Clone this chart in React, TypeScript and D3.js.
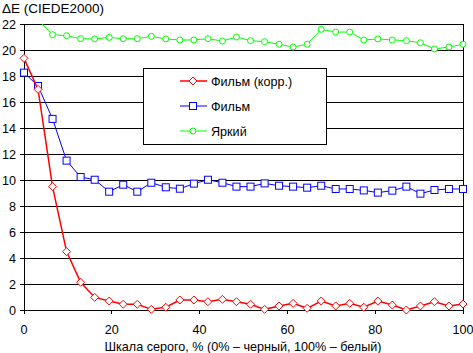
import React, { useEffect, useRef } from 'react';
import * as d3 from 'd3';

// grey levels, % (32 steps)
const greyLevels = [0, 3.2, 6.5, 9.7, 12.9, 16.1, 19.4, 22.6, 25.8, 29, 32.3, 35.5, 38.7, 41.9, 45.2, 48.4,
  51.6, 54.8, 58.1, 61.3, 64.5, 67.7, 71, 74.2, 77.4, 80.6, 83.9, 87.1, 90.3, 93.5, 96.8, 100];

const filmCorr = [19.36, 16.97, 9.49, 4.49, 2.13, 0.97, 0.69, 0.44, 0.44, 0.05, 0.21, 0.77, 0.77, 0.64, 0.82, 0.64,
  0.44, 0.05, 0.31, 0.51, 0.13, 0.69, 0.31, 0.51, 0.21, 0.69, 0.38, 0.0, 0.31, 0.64, 0.31, 0.46];

const film = [18.26, 17.23, 14.7, 11.49, 10.23, 10.02, 9.1, 9.64, 9.1, 9.79, 9.44, 9.33, 9.72, 10.02, 9.79, 9.49,
  9.49, 9.74, 9.56, 9.49, 9.41, 9.56, 9.31, 9.31, 9.2, 9.03, 9.18, 9.49, 8.95, 9.23, 9.31, 9.31];

const bright = [23.5, 22.3, 21.18, 21.1, 20.87, 20.85, 20.97, 20.87, 20.87, 21.05, 20.85, 20.77, 20.77, 20.87, 20.69, 21.0,
  20.72, 20.64, 20.44, 20.23, 20.44, 21.59, 21.38, 21.38, 20.77, 20.85, 20.77, 20.72, 20.56, 20.08, 20.23, 20.44];

const seriesNames = ['Фильм (корр.)', 'Фильм', 'Яркий'];
const yTicks = [0, 2, 4, 6, 8, 10, 12, 14, 16, 18, 20, 22];
const xTicks = [0, 20, 40, 60, 80, 100];

function App() {
  const ref = useRef<SVGSVGElement>(null);

  useEffect(() => {
    const svg = d3.select(ref.current);
    svg.selectAll('*').remove();
    const font = 'Liberation Sans, Arial, sans-serif';
    const fs = '12.6px';

    const left = 24, right = 463, top = 24, bottom = 310;
    const x = d3.scaleLinear().domain([0, 100]).range([left, right]);
    const y = d3.scaleLinear().domain([0, 22]).range([bottom, top]);

    svg.append('clipPath').attr('id', 'plot-clip')
      .append('rect').attr('x', 0).attr('y', top).attr('width', 473).attr('height', 353 - top);

    // grid
    svg.append('g').selectAll('line').data(yTicks.filter(d => d > 0)).join('line')
      .attr('x1', left - 4).attr('x2', right)
      .attr('y1', d => y(d)).attr('y2', d => y(d))
      .attr('stroke', '#000').attr('shape-rendering', 'crispEdges');

    // axes
    const axisG = svg.append('g').attr('shape-rendering', 'crispEdges');
    axisG.append('line').attr('x1', left - 4).attr('x2', right).attr('y1', bottom).attr('y2', bottom).attr('stroke', '#000');
    axisG.append('line').attr('x1', left).attr('x2', left).attr('y1', top).attr('y2', bottom).attr('stroke', '#000');
    axisG.append('line').attr('x1', right).attr('x2', right).attr('y1', top).attr('y2', bottom).attr('stroke', '#000');
    axisG.selectAll('.xt').data(xTicks).join('line').attr('class', 'xt')
      .attr('x1', d => x(d)).attr('x2', d => x(d)).attr('y1', bottom).attr('y2', bottom + 4).attr('stroke', '#000');

    svg.append('g').selectAll('text').data(yTicks).join('text')
      .attr('x', 16).attr('y', d => y(d) + 4.5)
      .attr('text-anchor', 'end').style('font-family', font).style('font-size', fs)
      .text(d => d);

    svg.append('g').selectAll('text').data(xTicks).join('text')
      .attr('x', d => x(d)).attr('y', 334)
      .attr('text-anchor', 'middle').style('font-family', font).style('font-size', fs)
      .text(d => d);

    svg.append('text').attr('x', 2).attr('y', 13)
      .style('font-family', font).style('font-size', '13.5px').text('ΔE (CIEDE2000)');
    svg.append('text').attr('x', 243).attr('y', 351).attr('text-anchor', 'middle')
      .style('font-family', font).style('font-size', fs)
      .text('Шкала серого, % (0% – черный, 100% – белый)');

    const series = [
      { values: bright, color: '#00ff00', width: 1, marker: 'circle' },
      { values: film, color: '#0000ff', width: 1, marker: 'square' },
      { values: filmCorr, color: '#ff0000', width: 1.5, marker: 'diamond' },
    ];

    const drawMarker = (g: any, type: string, color: string, cx: number, cy: number) => {
      if (type === 'circle') {
        g.append('circle').attr('cx', cx).attr('cy', cy).attr('r', 3)
          .attr('fill', '#fff').attr('stroke', color).attr('stroke-width', 1);
      } else if (type === 'square') {
        g.append('rect').attr('x', cx - 3.5).attr('y', cy - 3.5).attr('width', 7).attr('height', 7)
          .attr('fill', '#fff').attr('stroke', color).attr('stroke-width', 1);
      } else {
        g.append('path').attr('d', `M${cx},${cy - 4}L${cx + 4},${cy}L${cx},${cy + 4}L${cx - 4},${cy}Z`)
          .attr('fill', '#fff').attr('stroke', color).attr('stroke-width', 1);
      }
    };

    const plot = svg.append('g').attr('clip-path', 'url(#plot-clip)');
    series.forEach(s => {
      const line = d3.line<number>().x((d, i) => x(greyLevels[i])).y(d => y(d));
      plot.append('path').datum(s.values).attr('d', line)
        .attr('fill', 'none').attr('stroke', s.color).attr('stroke-width', s.width);
      s.values.forEach((v, i) => drawMarker(plot, s.marker, s.color, x(greyLevels[i]), y(v)));
    });

    // legend
    const legend = svg.append('g');
    legend.append('rect').attr('x', 143.5).attr('y', 68.5).attr('width', 183).attr('height', 76)
      .attr('fill', '#fff').attr('stroke', '#000');
    const legendItems = [
      { name: seriesNames[0], color: '#ff0000', width: 1.5, marker: 'diamond' },
      { name: seriesNames[1], color: '#0000ff', width: 1, marker: 'square' },
      { name: seriesNames[2], color: '#00ff00', width: 1, marker: 'circle' },
    ];
    legendItems.forEach((it, i) => {
      const ly = 81 + i * 25;
      legend.append('line').attr('x1', 180).attr('x2', 207).attr('y1', ly).attr('y2', ly)
        .attr('stroke', it.color).attr('stroke-width', it.width);
      drawMarker(legend, it.marker, it.color, 193, ly);
      legend.append('text').attr('x', 211).attr('y', ly + 4.5)
        .style('font-family', font).style('font-size', fs).text(it.name);
    });
  }, []);

  return (
    <svg ref={ref} width={473} height={353}
      style={{ position: 'absolute', left: 0, top: 0, background: '#fff' }} />
  );
}

export default App;
